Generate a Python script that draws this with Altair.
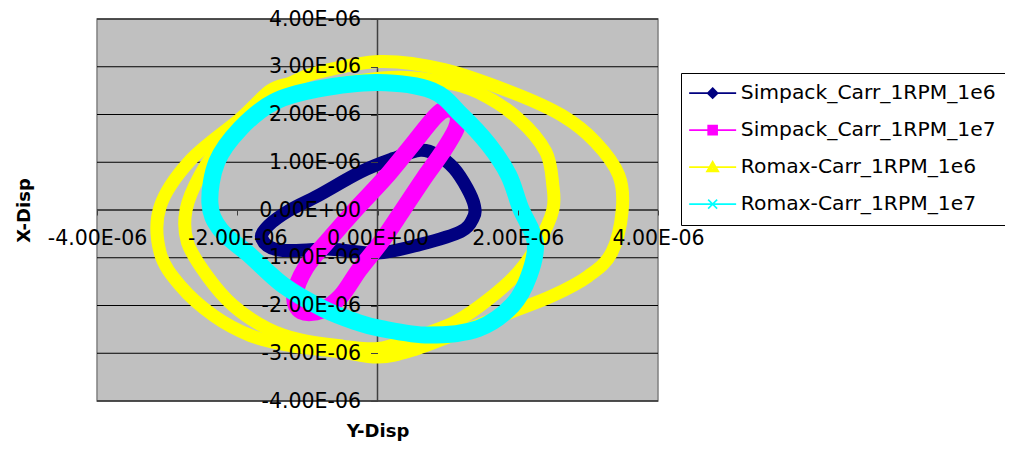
import altair as alt
import pandas as pd

# ---------------- data (displacements in units of 1E-06) ----------------
series_names = ["Simpack_Carr_1RPM_1e6", "Simpack_Carr_1RPM_1e7",
                "Romax-Carr_1RPM_1e6", "Romax-Carr_1RPM_1e7"]
series_colors = ["#000080", "#FF00FF", "#FFFF00", "#00FFFF"]

x_ticks = [-4, -2, 0, 2, 4]
y_ticks = [-4, -3, -2, -1, 0, 1, 2, 3, 4]

# Simpack_Carr_1RPM_1e6 (one closed orbit)
simpack_1e6_x = [0.61, 0.23, -0.24, -0.85, -1.25, -1.55, -1.65, -1.40, -0.67, 0.00,
                 0.61, 1.19, 1.37, 1.38, 1.28, 1.09, 0.85]
simpack_1e6_y = [1.25, 1.08, 0.80, 0.30, 0.00, -0.32, -0.60, -0.84, -0.82, -0.90,
                 -0.72, -0.45, -0.15, 0.10, 0.45, 0.87, 1.15]

# Simpack_Carr_1RPM_1e7 (narrow orbit)
simpack_1e7_x = [-1.08, -1.18, -1.02, -0.68, -0.32, 0.10, 0.46, 0.82, 1.00, 1.14,
                 1.12, 0.92, 0.66, 0.36, 0.06, -0.26, -0.52, -0.80]
simpack_1e7_y = [-2.12, -1.80, -1.20, -0.60, 0.00, 0.66, 1.30, 1.95, 2.12, 2.00,
                 1.70, 1.20, 0.66, 0.00, -0.65, -1.25, -1.80, -2.10]

# Romax-Carr_1RPM_1e6 (two passes)
romax_1e6_a_x = [3.49, 3.44, 3.11, 2.63, 1.92, 0.95, 0.04, -0.86, -1.24, -1.53, -1.96,
                 -2.67, -3.10, -3.10, -2.81, -2.34, -1.81, -1.24, -0.53, 0.01, 0.49,
                 1.20, 1.92, 2.49, 3.01, 3.34]
romax_1e6_a_y = [0.00, 0.73, 1.42, 1.98, 2.46, 2.94, 3.11, 2.88, 2.66, 2.50, 1.91,
                 1.04, 0.07, -0.89, -1.59, -2.21, -2.63, -2.84, -2.97, -3.08, -2.94,
                 -2.55, -2.13, -1.80, -1.38, -0.89]
romax_1e6_b_x = [2.50, 2.50, 2.40, 2.01, 1.44, 0.95, 0.33, -0.20, -1.00, -1.72, -2.20,
                 -2.53, -2.73, -2.71, -2.43, -2.06, -1.57, -1.10, -0.50, 0.01, 0.49,
                 1.11, 1.59, 2.01, 2.30]
romax_1e6_b_y = [0.00, 0.52, 1.22, 1.91, 2.46, 2.68, 2.78, 2.72, 2.50, 2.05, 1.42,
                 0.73, 0.00, -0.68, -1.38, -2.00, -2.48, -2.72, -2.85, -2.90, -2.69,
                 -2.34, -1.86, -1.30, -0.68]

# Romax-Carr_1RPM_1e7
romax_1e7_x = [2.04, 1.87, 1.59, 1.20, 0.78, 0.00, -0.86, -1.48, -1.96, -2.29, -2.39,
               -2.24, -1.81, -1.34, -0.77, -0.29, 0.04, 0.73, 1.44, 1.92, 2.16, 2.25]
romax_1e7_y = [0.04, 0.73, 1.36, 1.98, 2.50, 2.67, 2.53, 2.26, 1.70, 1.01, 0.15,
               -0.41, -0.96, -1.58, -2.07, -2.35, -2.48, -2.62, -2.48, -2.00, -1.38, -0.68]

# ---------------- layout ----------------
W, H = 561, 382
FONT = "DejaVu Sans"

xscale = alt.Scale(domain=[-4, 4], nice=False, zero=False)
yscale = alt.Scale(domain=[-4, 4], nice=False, zero=False)

lab_expr = ("datum.value == 0 ? '0.00E+00' : (datum.value < 0 ? '-' : '') + "
            "format(abs(datum.value), '.2f') + 'E-06'")

x_axis = alt.Axis(orient="bottom", offset=-H / 2, values=x_ticks, labelExpr=lab_expr,
                  grid=False, domain=False, ticks=True, tickSize=5, tickColor="#404040",
                  labelPadding=13, labelFont=FONT, labelFontSize=20.5, labelColor="black",
                  labelFlush=False, labelOverlap=False,
                  title="Y-Disp", titleFont=FONT, titleFontSize=18, titleFontWeight="bold",
                  titleColor="black", titleX=W / 2, titleY=221, titleBaseline="middle",
                  titleAlign="center", zindex=1)
y_axis = alt.Axis(orient="left", offset=-W / 2, values=y_ticks, labelExpr=lab_expr,
                  grid=False, domain=False, ticks=True, tickSize=7, tickColor="#404040",
                  labelPadding=10, labelFont=FONT, labelFontSize=20.5, labelColor="black",
                  labelFlush=False, labelOverlap=False, labelBaseline="middle",
                  title="X-Disp", titleFont=FONT, titleFontSize=18, titleFontWeight="bold",
                  titleColor="black", titleX=-353.5, titleY=H / 2, titleBaseline="middle",
                  titleAlign="center", titleAngle=270, zindex=1)


def xy_frame(xs, ys):
    return pd.DataFrame({"x": xs, "y": ys, "i": list(range(len(xs)))})


# gridlines (under data)
grid = alt.Chart(pd.DataFrame({"g": y_ticks})).mark_rule(color="black", strokeWidth=1).encode(
    y=alt.Y("g:Q", scale=yscale, axis=y_axis)
)
zero_h = alt.Chart(pd.DataFrame({"z": [0]})).mark_rule(color="#404040", strokeWidth=1.5).encode(
    y=alt.Y("z:Q", scale=yscale, axis=y_axis)
)
zero_v = alt.Chart(pd.DataFrame({"z": [0]})).mark_rule(color="#404040", strokeWidth=1.5).encode(
    x=alt.X("z:Q", scale=xscale, axis=x_axis)
)


def orbit(xs, ys, color, width):
    return alt.Chart(xy_frame(xs, ys)).mark_line(
        color=color, strokeWidth=width, interpolate="cardinal-closed",
        strokeJoin="round", strokeCap="round"
    ).encode(
        x=alt.X("x:Q", scale=xscale, axis=x_axis),
        y=alt.Y("y:Q", scale=yscale, axis=y_axis),
        order=alt.Order("i:Q"),
    )


l_navy = orbit(simpack_1e6_x, simpack_1e6_y, series_colors[0], 13)
l_mag = orbit(simpack_1e7_x, simpack_1e7_y, series_colors[1], 17)
l_yel_a = orbit(romax_1e6_a_x, romax_1e6_a_y, series_colors[2], 13)
l_yel_b = orbit(romax_1e6_b_x, romax_1e6_b_y, series_colors[2], 13)
l_cyan = orbit(romax_1e7_x, romax_1e7_y, series_colors[3], 17)

# legend symbols: a line with the series marker
legend_paths = [
    "M-4.7,0H4.7M0,-1L1,0L0,1L-1,0ZM0,-0.7L0.7,0L0,0.7L-0.7,0ZM0,-0.4L0.4,0L0,0.4L-0.4,0ZM0,-0.1L0.1,0L0,0.1L-0.1,0Z",
    "M-4.7,0H4.7M-0.9,-0.9H0.9V0.9H-0.9ZM-0.6,-0.6H0.6V0.6H-0.6ZM-0.3,-0.3H0.3V0.3H-0.3Z",
    "M-4.7,0H4.7M0,-1.1L1.15,0.85H-1.15ZM0,-0.65L0.75,0.6H-0.75ZM0,-0.2L0.35,0.4H-0.35Z",
    "M-4.7,0H4.7M-0.9,-0.9L0.9,0.9M-0.9,0.9L0.9,-0.9",
]
leg = alt.Legend(title=None, orient="none", legendX=584, legendY=54,
                 fillColor="white", strokeColor="black", padding=10, cornerRadius=0,
                 symbolSize=100, symbolStrokeWidth=1.6, symbolOffset=11.5, labelOffset=18,
                 symbolOpacity=1, labelFont=FONT, labelFontSize=20.3, labelColor="black",
                 labelLimit=400, rowPadding=16)
legend_layer = alt.Chart(pd.DataFrame({"series": series_names})).mark_point(
    opacity=0, filled=False, strokeWidth=1.6
).encode(
    x=alt.value(0), y=alt.value(0),
    color=alt.Color("series:N", scale=alt.Scale(domain=series_names, range=series_colors), legend=leg),
    shape=alt.Shape("series:N", scale=alt.Scale(domain=series_names, range=legend_paths), legend=leg),
)

chart = alt.layer(grid, zero_h, zero_v, l_navy, l_mag, l_yel_a, l_yel_b, l_cyan, legend_layer).properties(
    width=W, height=H,
    padding={"left": 89, "top": 11, "right": 347, "bottom": 40},
    autosize=alt.AutoSizeParams(type="none"),
    background="white",
).configure_view(
    fill="#C0C0C0", stroke="#808080", strokeWidth=1.5
)

chart.save("out.html", embed_options={"renderer": "svg", "actions": False})
